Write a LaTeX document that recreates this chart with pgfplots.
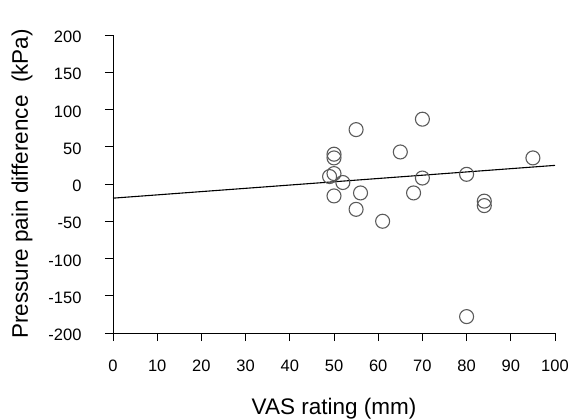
\documentclass[border=0pt]{standalone}
\usepackage{pgfplots}
\pgfplotsset{compat=1.18}
\usepackage{fontspec}
\setmainfont{Liberation Sans}
\definecolor{mk}{HTML}{5A5A5A}
\newcommand{\tickfont}{\fontsize{16.5}{19}\selectfont}
\begin{document}
\begin{tikzpicture}
\useasboundingbox (-113pt,-85pt) rectangle (462pt,333pt);
\begin{axis}[
  scale only axis,
  width=442pt, height=298pt,
  xmin=0, xmax=100, ymin=-200, ymax=200,
  axis lines=left,
  axis line style={-, line width=0.9pt, black},
  xtick={0,10,20,30,40,50,60,70,80,90,100},
  xticklabels={0,10,20,30,40,50,60,70,80,90,100},
  ytick={-200,-150,-100,-50,0,50,100,150,200},
  yticklabels={-200,-150,-100,-50,0,50,100,150,200},
  tick align=outside,
  major tick length=8pt,
  tick style={line width=0.9pt, black},
  xticklabel style={yshift=-15pt, font=\tickfont},
  yticklabel style={xshift=-20pt, yshift=-2pt, font=\tickfont},
  xlabel={VAS rating (mm)},
  ylabel={Pressure pain difference\ \ (kPa)},
  label style={font=\fontsize{22.5}{26}\selectfont},
  xlabel style={yshift=-20pt},
  ylabel style={yshift=9pt},
  clip=false,
]
\addplot[only marks, mark=o, mark size=7pt, mark options={line width=1.1pt, mk}] coordinates {
(70,87) (55,73) (50,40) (50,35) (65,43) (95,35) (49,10) (50,14) (52,2) (70,8) (80,13)
(50,-16) (56,-12) (68,-12) (55,-34) (61,-50) (84,-23) (84,-29) (80,-178)
};
\addplot[black, line width=1.1pt] coordinates {(0,-19) (100,25)};
\end{axis}
\end{tikzpicture}
\end{document}
